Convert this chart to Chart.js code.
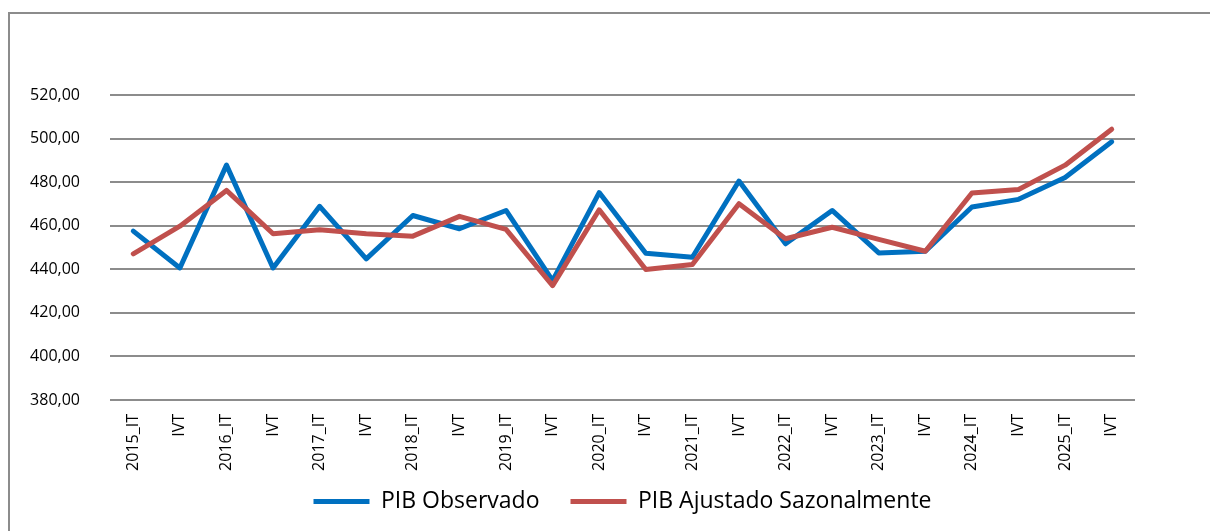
<!DOCTYPE html>
<html>
<head>
<meta charset="utf-8">
<script src="https://cdn.jsdelivr.net/npm/chart.js@4.4.0/dist/chart.umd.min.js"></script>
<style>
  html, body { margin: 0; padding: 0; background: #fff; }
  #wrap { position: relative; width: 1210px; height: 531px; overflow: hidden; }
  #frame {
    position: absolute; left: 8px; top: 12px; width: 1300px; height: 600px;
    border-left: 2px solid #8c8c8c; border-top: 2px solid #8c8c8c;
  }
  canvas { position: absolute; left: 0; top: 0; }
</style>
</head>
<body>
<div id="wrap">
  <div id="frame"></div>
  <canvas id="pib" width="1210" height="531"></canvas>
</div>
<script>
// ===============================
// DATA
// ===============================

const anos = ["2015", "2016", "2017", "2018", "2019", "2020", "2021", "2022", "2023", "2024", "2025"];

// cada ano: rótulo "_IT" e depois "IVT"
const categorias = [];
anos.forEach(a => {
  categorias.push(a + "_IT");
  categorias.push("IVT");
});

const pibObservado = [
  457.5, 440.6, 487.8, 440.6, 468.9, 444.8, 464.7, 458.6, 467.0, 434.8, 475.2,
  447.4, 445.5, 480.5, 451.7, 467.0, 447.5, 448.3, 468.6, 472.1, 482.1, 498.5
];

const pibAjustado = [
  447.1, 459.8, 476.2, 456.3, 458.1, 456.3, 455.2, 464.3, 458.3, 432.5, 467.3,
  439.9, 442.2, 470.1, 454.0, 459.3, 453.7, 448.3, 475.0, 476.6, 487.8, 504.3
];

const yTicks = [380, 400, 420, 440, 460, 480, 500, 520];

// ===============================
// CHART
// ===============================

const fmt = v => v.toFixed(2).replace(".", ",");

// a legenda precisa de espaço largo entre itens, mas fica colada aos rótulos
const legendaAcima = {
  id: "legendaAcima",
  afterLayout(chart) {
    const lg = chart.legend;
    if (!lg) return;
    const dy = lg.top - 459;
    lg.top -= dy;
    lg.bottom -= dy;
  }
};

new Chart(document.getElementById("pib"), {
  type: "line",
  data: {
    labels: categorias,
    datasets: [
      {
        label: "PIB Observado",
        data: pibObservado,
        borderColor: "#0070C0",
        backgroundColor: "#0070C0",
        borderWidth: 5,
        borderCapStyle: "round",
        borderJoinStyle: "round",
        pointRadius: 0,
        tension: 0,
        order: 2
      },
      {
        label: "PIB Ajustado Sazonalmente",
        data: pibAjustado,
        borderColor: "#C0504D",
        backgroundColor: "#C0504D",
        borderWidth: 5,
        borderCapStyle: "round",
        borderJoinStyle: "round",
        pointRadius: 0,
        tension: 0,
        order: 1
      }
    ]
  },
  plugins: [legendaAcima],
  options: {
    responsive: false,
    animation: false,
    layout: { padding: { left: 20, right: 75, top: 95, bottom: -14 } },
    plugins: {
      tooltip: { enabled: false },
      legend: {
        position: "bottom",
        fullSize: false,
        labels: {
          color: "#000",
          font: { family: "Open Sans", size: 23 },
          usePointStyle: true,
          pointStyle: "line",
          pointStyleWidth: 56,
          padding: 31,
          sort: (a, b) => a.datasetIndex - b.datasetIndex
        }
      }
    },
    scales: {
      x: {
        offset: true,
        grid: { display: false, drawTicks: false },
        border: { display: false },
        ticks: {
          color: "#000",
          font: { family: "Open Sans", size: 16 },
          minRotation: 90,
          maxRotation: 90,
          autoSkip: false,
          padding: 14
        },
        afterFit: s => { s.height = 81; }
      },
      y: {
        min: 380,
        max: 520,
        afterBuildTicks: s => { s.ticks = yTicks.map(v => ({ value: v })); },
        grid: { color: "#8c8c8c", lineWidth: 2, drawTicks: false },
        border: { display: false },
        ticks: {
          color: "#000",
          font: { family: "Open Sans", size: 16 },
          padding: 30,
          callback: v => fmt(v)
        },
        afterFit: s => { s.width = 90; }
      }
    }
  }
});
</script>
</body>
</html>
